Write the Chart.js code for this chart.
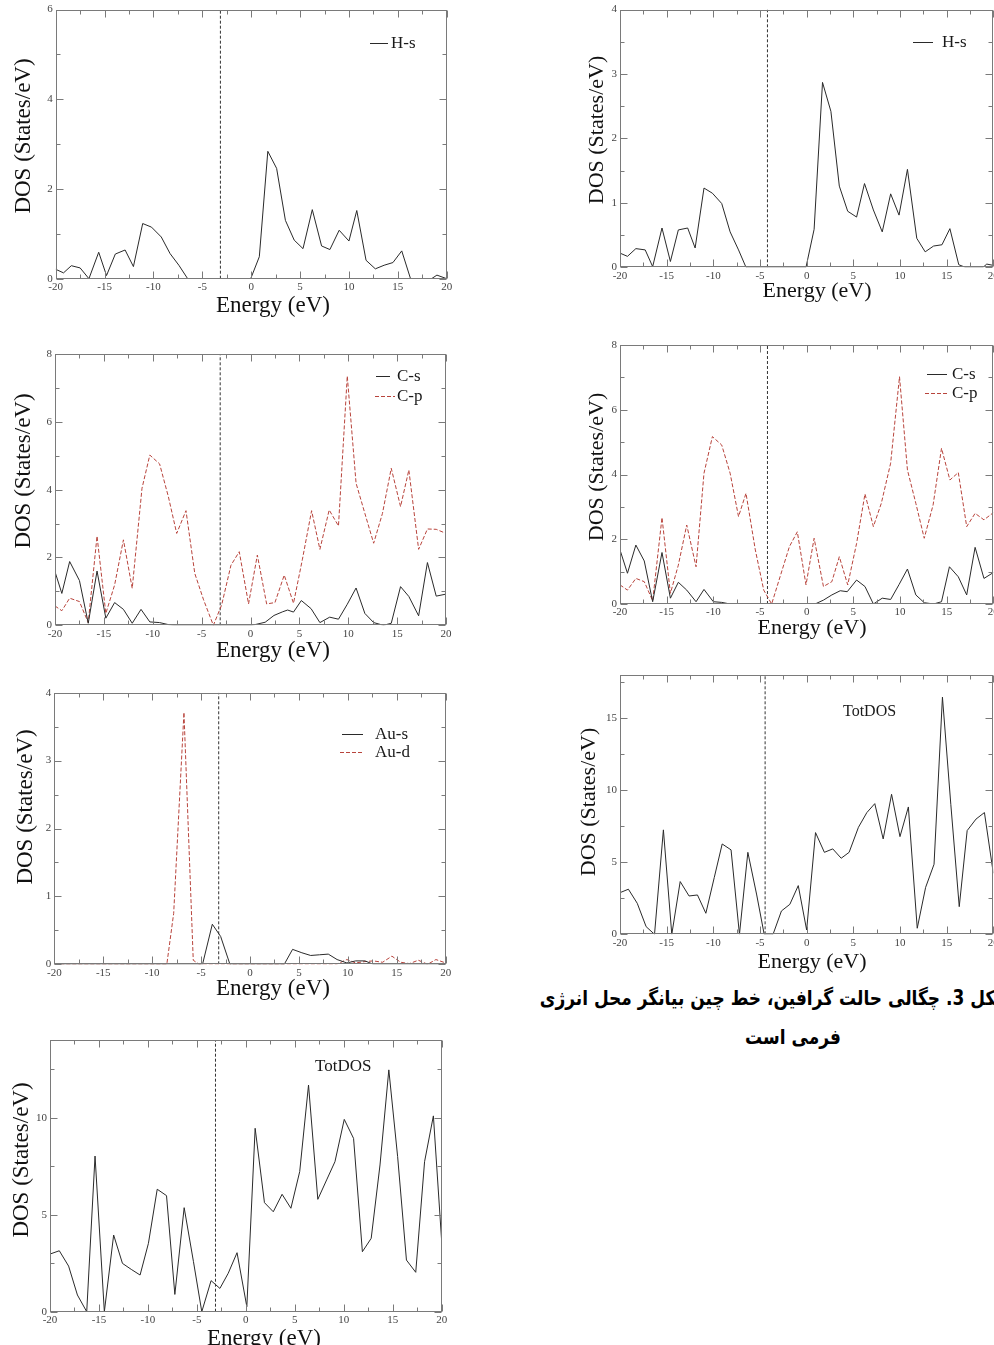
<!DOCTYPE html>
<html dir="ltr"><head><meta charset="utf-8">
<script src="https://cdn.jsdelivr.net/npm/chart.js@4.4.0/dist/chart.umd.min.js"></script>
<style>
html,body{margin:0;padding:0;background:#fff;width:994px;height:1345px;overflow:hidden;position:relative}
canvas{position:absolute}
.cap{position:absolute;font-family:"DejaVu Sans",sans-serif;font-weight:bold;font-size:17px;color:#000;white-space:nowrap;line-height:30px;height:30px;transform:scaleY(1.2);transform-origin:50% 50%}
</style></head><body>
<div class="cap" dir="rtl" style="left:510px;width:502px;top:983px;text-align:right">شکل 3. چگالی حالت گرافین، خط چین بیانگر محل انرژی</div>
<div class="cap" dir="rtl" style="left:693px;width:200px;top:1022px;text-align:center">فرمی است</div>
<script>
// ---------- DATA ----------
const xTickLabels = [-20, -15, -10, -5, 0, 5, 10, 15, 20];

// Left column, H-s
const hsLeftEnergy = [-20,-19.2,-18.4,-17.5,-16.6,-15.6,-14.8,-13.9,-12.9,-12.05,-11.1,-10.2,-9.2,-8.3,-7.4,-6.5,-0.05,0.83,1.7,2.6,3.5,4.4,5.3,6.25,7.2,8.05,9.0,10.0,10.8,11.75,12.7,13.6,14.5,15.4,16.3,18.45,19.0,20];
const hsLeftDos    = [0.21,0.13,0.29,0.24,0,0.59,0.07,0.55,0.64,0.27,1.23,1.15,0.93,0.56,0.30,0,0,0.49,2.84,2.46,1.30,0.86,0.67,1.54,0.73,0.65,1.08,0.84,1.52,0.41,0.22,0.30,0.36,0.62,0,0,0.08,0];

// Right column, H-s
const hsRightEnergy = [-20,-19.2,-18.3,-17.3,-16.5,-15.5,-14.6,-13.75,-12.75,-11.95,-11.0,-10.1,-9.1,-8.2,-7.3,-6.5,-0.07,0.8,1.7,2.6,3.5,4.4,5.35,6.2,7.15,8.1,9.0,9.9,10.8,11.8,12.7,13.6,14.5,15.35,16.3,17.0,18.9,19.3,20];
const hsRightDos    = [0.22,0.17,0.29,0.27,0.01,0.61,0.09,0.58,0.61,0.30,1.23,1.15,0.99,0.55,0.27,0,0,0.59,2.87,2.42,1.26,0.87,0.78,1.30,0.89,0.55,1.14,0.81,1.52,0.45,0.24,0.33,0.35,0.60,0.04,0,0,0.05,0.03];

// Left column, C-s / C-p
const csLeftEnergy = [-20,-19.3,-18.5,-17.5,-16.6,-15.7,-14.8,-13.9,-13.0,-12.1,-11.2,-10.3,-9.3,-8.4,-7.9,0.1,0.6,1.5,2.4,3.3,3.8,4.4,5.2,6.2,7.1,8.1,9.0,9.9,10.8,11.7,12.6,13.6,14.4,15.35,16.2,17.2,18.1,19.0,20];
const csLeftDos    = [1.58,0.94,1.88,1.32,0.06,1.60,0.21,0.67,0.47,0.06,0.47,0.10,0.08,0.02,0,0,0.03,0.09,0.29,0.40,0.45,0.39,0.73,0.49,0.08,0.24,0.18,0.62,1.10,0.35,0.08,0,0.06,1.14,0.85,0.28,1.85,0.86,0.92];
const cpLeftEnergy = [-20,-19.3,-18.5,-17.5,-16.6,-15.7,-14.8,-13.9,-13.0,-12.1,-11.1,-10.3,-9.3,-8.4,-7.55,-6.6,-5.7,-4.8,-3.8,-2.95,-2.0,-1.15,-0.2,0.7,1.65,2.5,3.45,4.4,5.3,6.25,7.1,8.05,9.0,9.9,10.8,11.7,12.6,13.5,14.4,15.35,16.2,17.2,18.1,19.0,20];
const cpLeftDos    = [0.57,0.43,0.80,0.70,0.08,2.63,0.35,1.19,2.52,1.09,4.04,5.02,4.76,3.79,2.71,3.38,1.53,0.75,0.0,0.60,1.77,2.17,0.63,2.07,0.63,0.67,1.48,0.65,1.93,3.38,2.24,3.40,2.93,7.35,4.19,3.30,2.42,3.30,4.63,3.50,4.58,2.24,2.84,2.83,2.71];

// Right column, C-s / C-p
const csRightEnergy = [-20,-19.2,-18.3,-17.4,-16.5,-15.5,-14.6,-13.75,-12.85,-11.85,-11.0,-10.0,-9.1,-8.2,0.9,1.8,2.7,3.6,4.35,5.35,6.25,7.15,8.1,9.0,9.9,10.8,11.7,12.6,13.6,14.45,15.3,16.25,17.15,18.05,19.0,20];
const csRightDos    = [1.67,0.95,1.82,1.33,0.07,1.59,0.18,0.67,0.43,0.07,0.45,0.07,0.05,0,0,0.12,0.28,0.41,0.38,0.74,0.54,0,0.18,0.14,0.6,1.08,0.28,0.04,0,0.07,1.15,0.84,0.28,1.75,0.79,0.97];
const cpRightEnergy = [-20,-19.2,-18.3,-17.4,-16.5,-15.5,-14.6,-13.75,-12.85,-11.85,-11.0,-10.1,-9.1,-8.2,-7.3,-6.5,-5.5,-4.6,-3.75,-2.85,-1.85,-1.0,-0.07,0.8,1.8,2.7,3.5,4.4,5.35,6.25,7.15,8.0,9.0,9.95,10.8,11.7,12.6,13.55,14.45,15.35,16.25,17.15,18.05,19.0,20];
const cpRightDos    = [0.59,0.43,0.79,0.69,0.10,2.67,0.33,1.20,2.44,1.15,4.04,5.17,4.91,4.04,2.70,3.42,1.67,0.43,0,0.84,1.77,2.23,0.59,2.03,0.54,0.69,1.46,0.59,1.87,3.40,2.39,3.11,4.35,7.02,4.14,3.11,2.03,3.06,4.81,3.83,4.06,2.39,2.80,2.60,2.82];

// Left column, Au-s / Au-d
const ausEnergy = [-20,-4.85,-3.85,-3.0,-2.05,3.5,4.35,5.3,6.2,7.1,8.0,8.9,9.9,10.8,11.75,12.6,20];
const ausDos    = [0,0,0.59,0.41,0,0,0.22,0.17,0.13,0.14,0.15,0.07,0.02,0.05,0.05,0,0];
const audEnergy = [-20,-8.5,-7.8,-6.75,-5.8,-5.2,8.85,9.9,10.8,11.75,12.6,13.55,14.5,15.4,16.3,17.2,18.15,19.0,20];
const audDos    = [0,0,0.75,3.71,0.06,0,0,0.07,0.02,0.04,0.05,0.03,0.12,0.03,0.01,0.06,0,0.07,0.02];

// Total DOS, left column (bottom)
const totLeftEnergy = [-20,-19.05,-18.1,-17.2,-16.25,-15.4,-14.45,-13.5,-12.6,-11.7,-10.8,-9.95,-9.05,-8.1,-7.25,-6.3,-5.35,-4.5,-3.55,-2.65,-1.8,-0.9,0.1,0.95,1.9,2.8,3.7,4.6,5.5,6.4,7.35,8.25,9.1,10.05,11.0,11.9,12.8,13.7,14.6,15.5,16.4,17.35,18.25,19.15,20];
const totLeftDos    = [2.97,3.14,2.35,0.86,0,8.02,0,3.95,2.49,2.18,1.89,3.52,6.31,5.98,0.89,5.36,2.58,0,1.60,1.20,1.98,3.04,0.26,9.45,5.62,5.15,6.05,5.33,7.22,11.68,5.79,6.79,7.73,9.91,8.93,3.09,3.78,7.56,12.46,7.99,2.66,2.03,7.73,10.09,3.61];

// Total DOS, right column
const totRightEnergy = [-20,-19.1,-18.15,-17.2,-16.3,-15.35,-14.45,-13.55,-12.6,-11.7,-10.8,-9.9,-9.05,-8.1,-7.2,-6.3,-5.35,-4.55,-3.6,-2.7,-1.8,-0.9,0,0.95,1.9,2.8,3.7,4.55,5.55,6.45,7.3,8.2,9.1,10.0,10.9,11.85,12.75,13.65,14.55,15.45,16.35,17.2,18.15,19.05,20];
const totRightDos    = [2.89,3.13,2.15,0.53,0,7.25,0,3.66,2.66,2.73,1.46,3.94,6.27,5.86,0,5.69,2.73,0,0,1.62,2.08,3.38,0.30,7.06,5.69,5.93,5.28,5.69,7.43,8.45,9.07,6.62,9.72,6.78,8.84,0.42,3.26,4.86,16.46,9.0,1.92,7.2,8.0,8.45,4.24];

// Fermi energies (dashed vertical line)
const fermiLeft  = [-3.15, -3.1, -3.2, -3.1];
const fermiRight = [-4.2, -4.2, -4.45];

// ---------- STYLE / LAYOUT ----------
const INK = '#2a2a2a', RED = '#b8443c', FRAME = '#7a7a7a';
const SERIF = '"Liberation Serif","Times New Roman",serif';

const panels = [
  {canvas:[0,0,460,322], frame:[55.7,8.3,446.7,278.7], ymax:6, ystep:2, fermi:fermiLeft[0],
   series:[{e:hsLeftEnergy,d:hsLeftDos,dash:false}],
   legend:[{label:'H-s',dash:false,x1:370,x2:388,y:43,tx:391}], lf:17,
   ytitle:[24,136,23], xtitle:[273,306,23]},
  {canvas:[0,340,460,330], frame:[55,354,446,625.3], ymax:8, ystep:2, fermi:fermiLeft[1],
   series:[{e:csLeftEnergy,d:csLeftDos,dash:false},{e:cpLeftEnergy,d:cpLeftDos,dash:true}],
   legend:[{label:'C-s',dash:false,x1:376,x2:390,y:376,tx:397},{label:'C-p',dash:true,x1:375,x2:395,y:396,tx:397}], lf:17,
   ytitle:[24,471,23], xtitle:[273,651,23]},
  {canvas:[0,680,460,330], frame:[54.3,692.7,445.7,964.3], ymax:4, ystep:1, fermi:fermiLeft[2],
   series:[{e:ausEnergy,d:ausDos,dash:false},{e:audEnergy,d:audDos,dash:true}],
   legend:[{label:'Au-s',dash:false,x1:342,x2:363,y:734,tx:375},{label:'Au-d',dash:true,x1:340,x2:363,y:752,tx:375}], lf:17,
   ytitle:[26,807,23], xtitle:[273,989,23]},
  {canvas:[0,1025,460,340], frame:[50,1040,441.7,1311.7], ymax:14, ystep:5, fermi:fermiLeft[3],
   series:[{e:totLeftEnergy,d:totLeftDos,dash:false}],
   legend:[], label:{text:'TotDOS',x:315,y:1067,size:17}, lf:17,
   ytitle:[22,1160,23], xtitle:[264,1339,23]},
  {canvas:[560,0,445,310], frame:[620,7.3,993.3,267.3], ymax:4, ystep:1, fermi:fermiRight[0],
   series:[{e:hsRightEnergy,d:hsRightDos,dash:false}],
   legend:[{label:'H-s',dash:false,x1:913,x2:933,y:42,tx:942}], lf:17,
   ytitle:[597,130,22], xtitle:[817,291,22]},
  {canvas:[560,330,445,310], frame:[620,345,993.3,604], ymax:8, ystep:2, fermi:fermiRight[1],
   series:[{e:csRightEnergy,d:csRightDos,dash:false},{e:cpRightEnergy,d:cpRightDos,dash:true}],
   legend:[{label:'C-s',dash:false,x1:927,x2:947,y:374,tx:952},{label:'C-p',dash:true,x1:925,x2:947,y:393,tx:952}], lf:17,
   ytitle:[597,467,22], xtitle:[812,628,22]},
  {canvas:[560,665,445,310], frame:[620,675,993.3,934.3], ymax:18, ystep:5, fermi:fermiRight[2],
   series:[{e:totRightEnergy,d:totRightDos,dash:false}],
   legend:[], label:{text:'TotDOS',x:843,y:712,size:16}, lf:17,
   ytitle:[589,802,22], xtitle:[812,962,22]}
];

function makePanel(p, idx) {
  const [cl, ct, cw, ch] = p.canvas;
  const [fl, ft, fr, fb] = p.frame;
  const cv = document.createElement('canvas');
  cv.width = cw; cv.height = ch;
  cv.style.left = cl + 'px'; cv.style.top = ct + 'px';
  document.body.appendChild(cv);

  const datasets = p.series.map(s => ({
    data: s.e.map((e, i) => ({x: e, y: s.d[i]})),
    borderColor: s.dash ? RED : INK,
    borderDash: s.dash ? [4, 2] : [],
    borderWidth: 1, pointRadius: 0, tension: 0, fill: false
  }));
  datasets.push({
    data: [{x: p.fermi, y: 0}, {x: p.fermi, y: p.ymax}],
    borderColor: '#333', borderDash: [3, 2], borderWidth: 1, pointRadius: 0, tension: 0
  });

  const deco = {
    id: 'deco' + idx,
    afterDatasetsDraw(chart) {
      const ctx = chart.ctx, a = chart.chartArea, xs = chart.scales.x, ys = chart.scales.y;
      ctx.save();
      ctx.setLineDash([]);
      ctx.strokeStyle = FRAME; ctx.lineWidth = 1;
      const L = Math.round(a.left) + 0.5, T = Math.round(a.top) + 0.5, R = Math.round(a.right) - 0.5, B = Math.round(a.bottom) - 0.5;
      ctx.strokeRect(L, T, R - L, B - T);
      ctx.beginPath();
      for (let k = 0; k <= 16; k++) {
        const v = -20 + k * 2.5;
        const len = (k % 2 === 0) ? 7 : 4;
        const px = Math.round(xs.getPixelForValue(v)) + 0.5;
        ctx.moveTo(px, B); ctx.lineTo(px, B - len);
        ctx.moveTo(px, T); ctx.lineTo(px, T + len);
      }
      const nMinor = Math.floor(p.ymax / (p.ystep / 2) + 1e-9);
      for (let k = 0; k <= nMinor; k++) {
        const v = k * p.ystep / 2;
        const len = (k % 2 === 0) ? 7 : 4;
        const py = Math.round(ys.getPixelForValue(v)) + 0.5;
        ctx.moveTo(L, py); ctx.lineTo(L + len, py);
        ctx.moveTo(R, py); ctx.lineTo(R - len, py);
      }
      ctx.stroke();

      // legend
      ctx.textBaseline = 'middle'; ctx.textAlign = 'left';
      ctx.font = p.lf + 'px ' + SERIF;
      p.legend.forEach(l => {
        ctx.beginPath();
        ctx.strokeStyle = l.dash ? RED : INK;
        ctx.setLineDash(l.dash ? [4, 2] : []);
        ctx.moveTo(l.x1 - cl, l.y - ct + 0.5); ctx.lineTo(l.x2 - cl, l.y - ct + 0.5);
        ctx.stroke();
        ctx.setLineDash([]);
        ctx.fillStyle = '#1a1a1a';
        ctx.fillText(l.label, l.tx - cl, l.y - ct + 1);
      });
      if (p.label) {
        ctx.font = p.label.size + 'px ' + SERIF;
        ctx.fillStyle = '#1a1a1a';
        ctx.fillText(p.label.text, p.label.x - cl, p.label.y - ct);
      }
      // axis titles
      ctx.fillStyle = '#111';
      ctx.textAlign = 'center';
      ctx.font = p.xtitle[2] + 'px ' + SERIF;
      ctx.fillText('Energy (eV)', p.xtitle[0] - cl, p.xtitle[1] - ct);
      ctx.save();
      ctx.translate(p.ytitle[0] - cl, p.ytitle[1] - ct);
      ctx.rotate(-Math.PI / 2);
      ctx.font = p.ytitle[2] + 'px ' + SERIF;
      ctx.fillText('DOS (States/eV)', 0, 0);
      ctx.restore();
      ctx.restore();
    }
  };

  new Chart(cv, {
    type: 'line',
    data: {datasets},
    plugins: [deco],
    options: {
      responsive: false, animation: false, events: [],
      layout: {padding: {left: 0, top: ft - ct, right: (cl + cw) - fr, bottom: 0}},
      plugins: {legend: {display: false}, tooltip: {enabled: false}},
      scales: {
        x: {
          type: 'linear', min: xTickLabels[0], max: xTickLabels[xTickLabels.length - 1],
          afterBuildTicks: s => { s.ticks = xTickLabels.map(v => ({value: v})); },
          ticks: {padding: 2, maxRotation: 0, autoSkip: false, color: '#444', font: {family: SERIF, size: 11}},
          grid: {display: false, drawTicks: false}, border: {display: false},
          afterFit: s => { s.height = (ct + ch) - fb; }
        },
        y: {
          type: 'linear', min: 0, max: p.ymax,
          ticks: {stepSize: p.ystep, includeBounds: false, padding: 3, color: '#444', font: {family: SERIF, size: 11}},
          grid: {display: false, drawTicks: false}, border: {display: false},
          afterFit: s => { s.width = fl - cl; }
        }
      }
    }
  });
}
panels.forEach(makePanel);
</script>
</body></html>
